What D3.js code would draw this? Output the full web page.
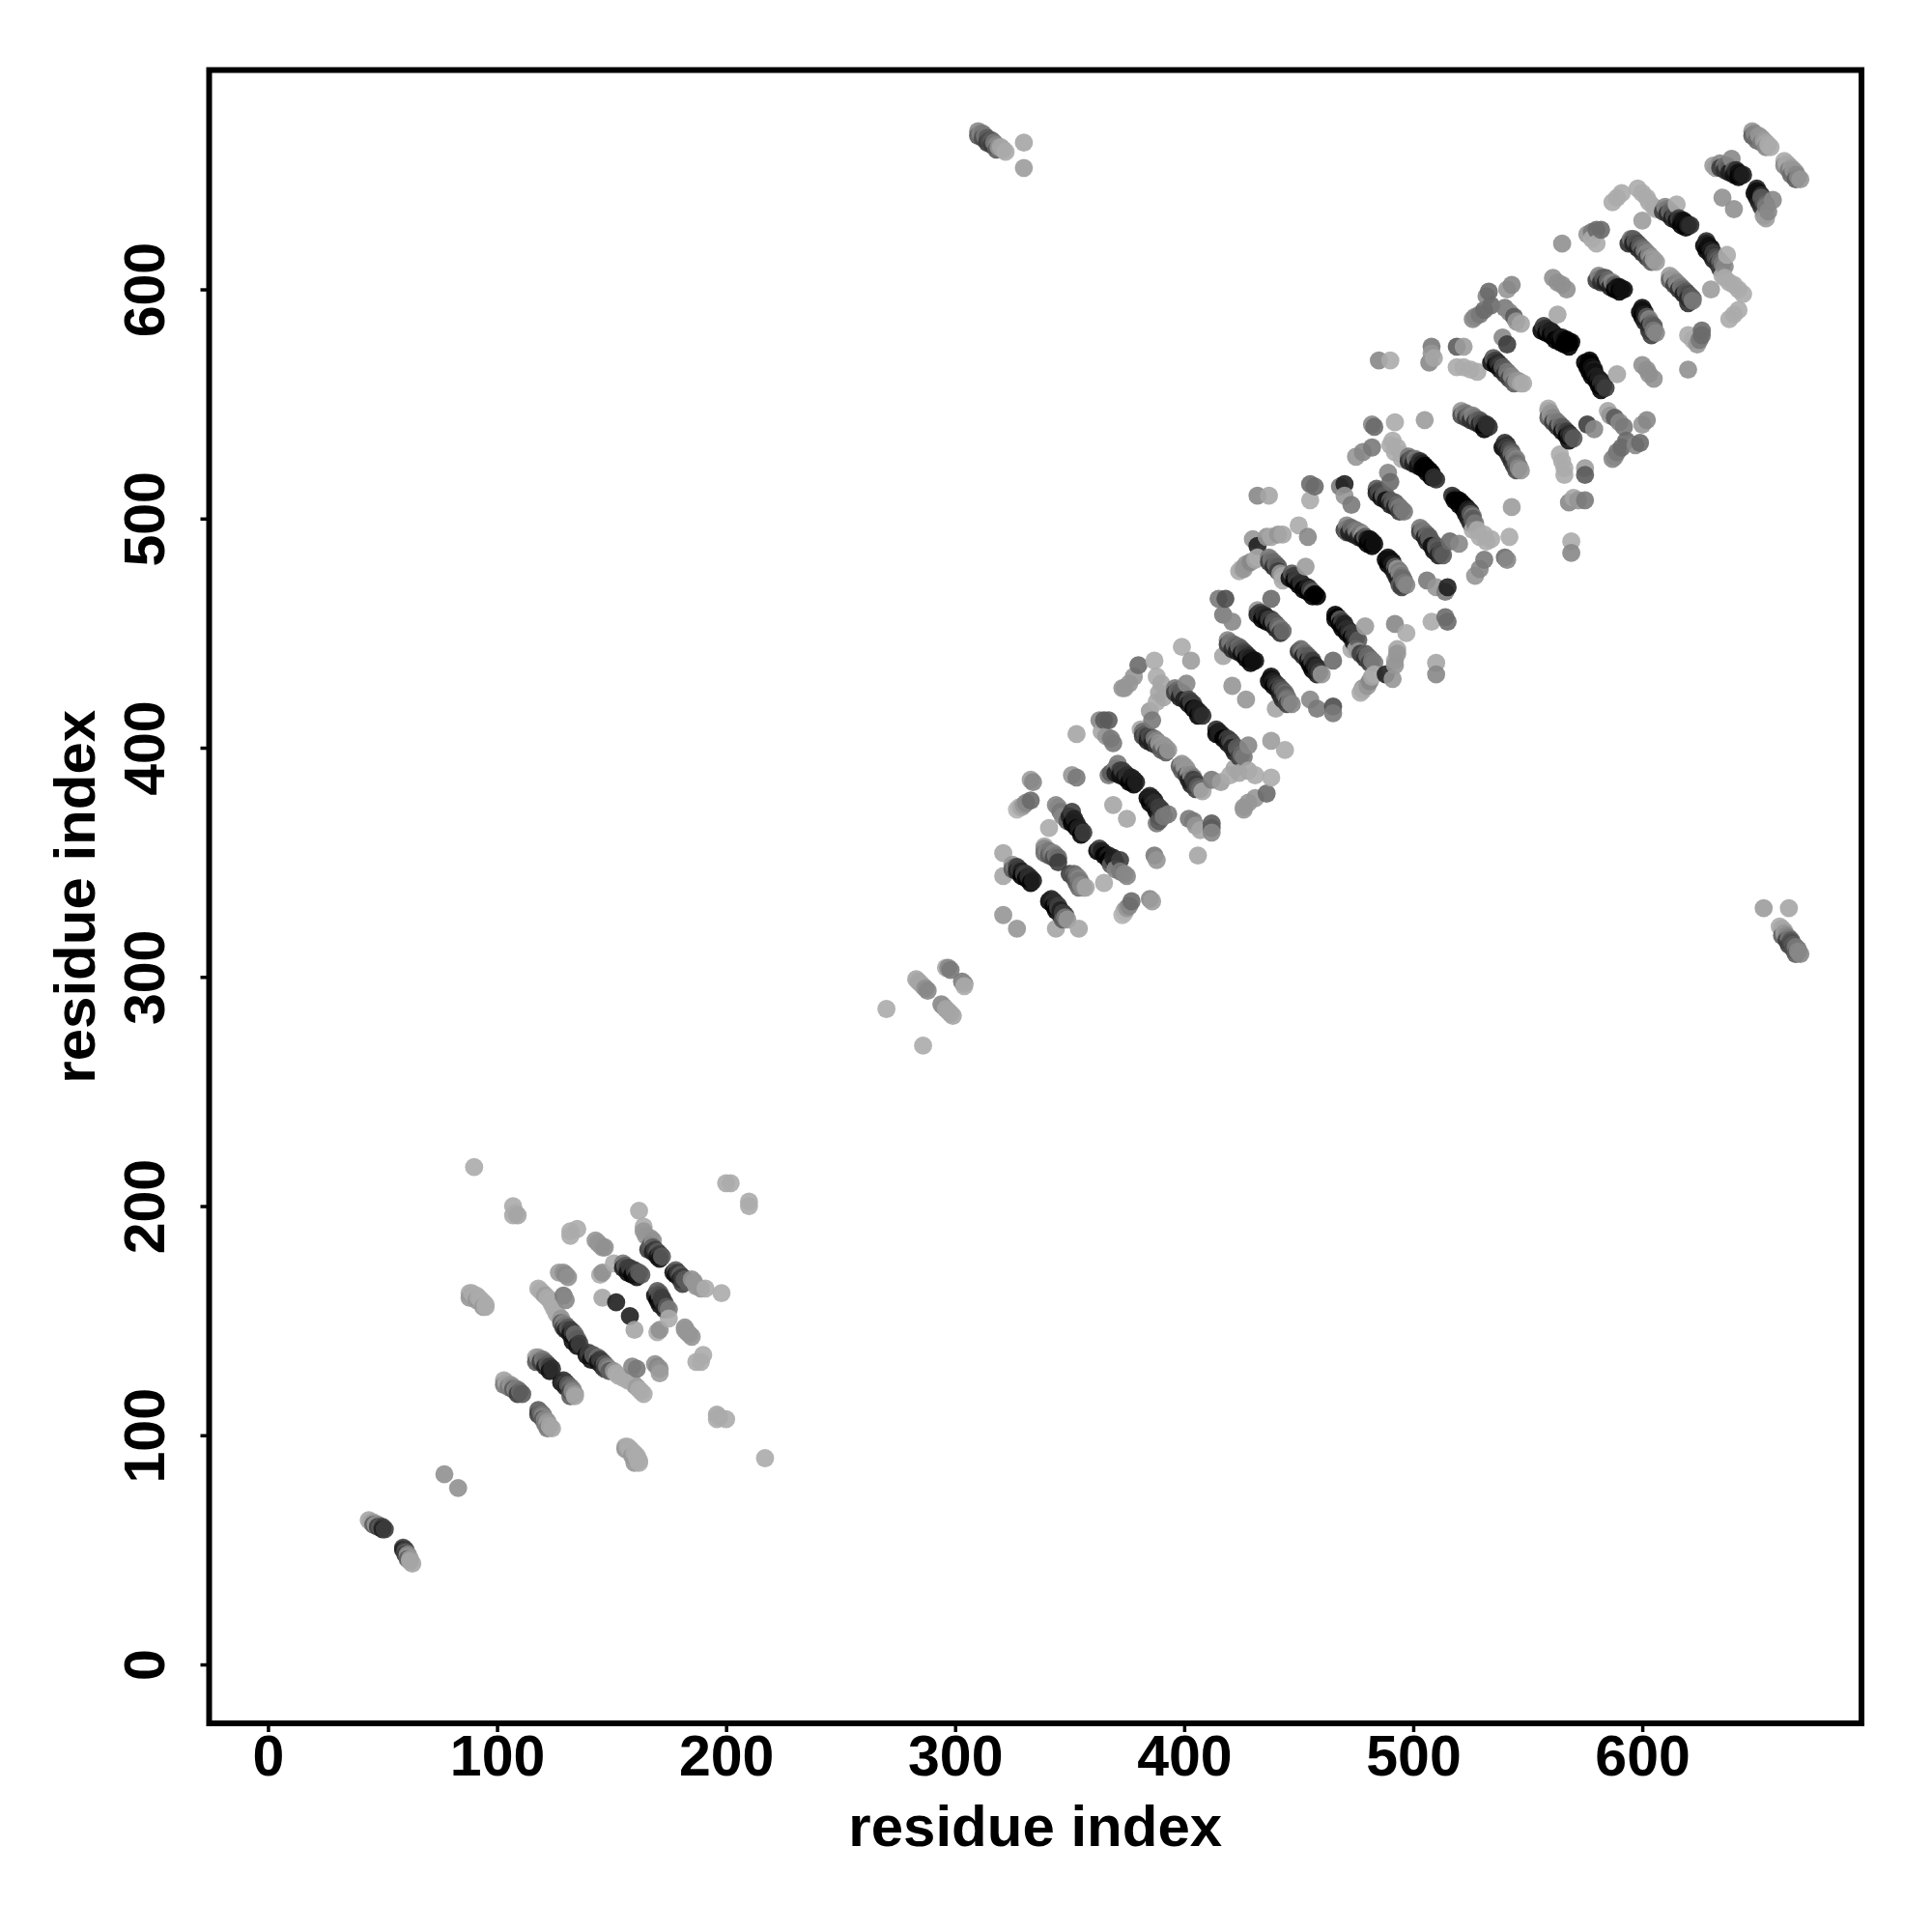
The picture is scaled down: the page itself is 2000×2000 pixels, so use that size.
<!DOCTYPE html>
<html><head><meta charset="utf-8">
<script src="https://cdn.jsdelivr.net/npm/d3@7/dist/d3.min.js"></script>
<style>html,body{margin:0;background:#fff}svg{display:block}text{font-family:"Liberation Sans",Arial,sans-serif;font-weight:bold;fill:#000}</style>
</head><body><svg id="c" width="2000" height="2000"></svg>
<script>
// Contacts are [residue i, residue j, weight]; the map is symmetric, so each is drawn at (i,j) and (j,i).
const xTicks=[0,100,200,300,400,500,600];
const yTicks=[0,100,200,300,400,500,600];
const axisLabel="residue index";
const contactsNTerm=[[44,63,.35],[45,62,.35],[46,62,.38],[47,61,.4],[48,61,.45],[49,60,.6],[50,60,.7],[51,59,.7],[77,83,.42]];
const contactsDomainA=[
[103,124,.35],[104,123,.35],[105,122,.38],[106,122,.4],[107,121,.45],[108,120,.45],[109,120,.5],[110,119,.55],[111,118,.6],
[117,134,.35],[118,134,.4],[119,133,.45],[120,133,.5],[121,132,.55],[122,131,.6],[123,130,.7],[124,129,.75],
[118,164,.33],[119,163,.33],[120,162,.33],[121,161,.38],[122,160,.33],[123,159,.33],[124,157,.33],[125,155,.33],[126,153,.33],[127,152,.33],[128,151,.4],[129,149,.45],[130,148,.5],[131,147,.6],[132,146,.7],[133,145,.7],[134,144,.55],[135,142,.6],[136,140,.7],
[127,171,.38],[129,171,.42],[130,170,.45],[131,169,.42],[129,161,.5],[130,159,.45],
[88,162,.33],[89,162,.33],[90,161,.33],[91,161,.33],[92,160,.33],[93,159,.33],[94,158,.33],[95,157,.33],[95,156,.33],
[90,217,.33],[107,200,.33],[109,196,.35],[200,210,.33],[202,210,.33],
[132,189,.33],[135,190,.33],[132,187,.33],[143,185,.4],[144,184,.4],[145,183,.4],[146,182,.4],[147,182,.42],
[155,175,.5],[156,174,.6],[157,173,.7],[158,173,.7],[159,172,.7],[160,172,.7],[161,171,.65],[162,171,.6],[163,170,.6],
[162,198,.33],[164,191,.33],[164,189,.4],[165,187,.4],[167,186,.4],[168,185,.42],[167,183,.6],[168,182,.6],[169,181,.7],[170,180,.6],[171,179,.7],[172,178,.6],
[146,160,.35],[152,158,.8],[151,175,.33],[146,171,.42],[145,170,.33],
[196,107,.33],[197,108,.33]];
const contactsDomainB=[[270,286,.33],[283,299,.35],[284,298,.35],[285,297,.35],[286,296,.35],[287,295,.42],[288,294,.45],[296,304,.33],[297,304,.45],[298,303,.5]];
const contactsDomainC1=[
[321,354,.35],[321,344,.35],[321,327,.4],
[325,349,.4],[326,348,.5],[327,348,.7],[328,347,.7],[329,346,.8],[330,345,.7],[331,345,.7],[332,344,.75],[333,343,.75],[334,342,.8],
[339,357,.35],[339,356,.45],[340,355,.45],[341,355,.5],[342,354,.5],[343,354,.45],[344,353,.5],[345,352,.55],
[341,365,.33],[344,375,.45],[345,374,.45],[346,372,.5],[347,370,.45],[349,368,.6],[351,372,.7],[352,369,.8],[353,367,.8],[354,365,.8],[355,364,.8],[356,363,.7],
[327,373,.3],[328,374,.3],[329,374,.35],[330,375,.4],[331,376,.45],[333,377,.55],[334,385,.45],[333,386,.38],
[351,388,.4],[353,387,.5],[353,406,.35],[363,412,.45],[365,412,.6],[367,412,.6],[364,407,.35],[366,405,.4],[368,404,.5],[369,402,.5],[369,375,.35],
[367,388,.5],[370,391,.5],[371,393,.5],[372,390,.7],[373,390,.7],[374,389,.7],[375,388,.75],[376,387,.75],[377,387,.8],[378,386,.8],[379,385,.8],
[381,408,.35],[382,407,.55],[383,406,.6],[384,405,.7],[385,405,.65],[386,404,.7],[387,404,.5],[388,403,.45],[389,402,.4],[390,401,.4],[391,401,.4],[392,400,.4],[393,399,.4],
[396,426,.5],[397,425,.55],[398,424,.6],[399,424,.6],[400,423,.6],[401,428,.45],[402,421,.65],[403,420,.7],[404,419,.7],[405,417,.8],[406,416,.8],[407,415,.8],[408,414,.75],
[421,427,.4],[387,438,.33],[403,438,.38],[399,444,.33],[386,412,.5],[385,416,.38],[388,420,.33],[389,424,.35],[390,428,.35],[388,431,.33],[391,422,.35],
[373,426,.4],[374,426,.4],[376,428,.4],[378,431,.4],[380,436,.55]];
const contactsDomainC2=[
[432,510,.45],[437,510,.35],[455,515,.55],[457,514,.55],[455,508,.33],[470,515,.8],[468,514,.5],[470,510,.4],[473,506,.5],[450,497,.33],[454,492,.45],
[436,492,.4],[438,492,.35],[441,493,.4],[443,493,.35],[430,491,.4],[432,488,.8],
[424,477,.33],[425,478,.33],[426,478,.4],[427,480,.4],[429,481,.45],[431,482,.35],[432,483,.33],
[437,483,.5],[438,482,.5],[439,481,.55],[440,480,.55],[441,479,.6],[442,476,.4],[443,475,.35],[443,473,.33],
[447,476,.6],[448,475,.7],[449,474,.7],[450,473,.7],[451,472,.75],[452,471,.75],[453,479,.38],[454,470,.8],[455,469,.7],[456,468,.6],[457,467,.9],[458,466,.95],
[438,465,.55],[432,460,.4],[433,459,.7],[434,458,.75],[435,458,.75],[436,457,.8],[437,456,.7],[438,456,.7],[439,455,.6],[440,454,.6],[441,453,.55],[442,452,.5],[443,451,.55],
[415,465,.5],[418,465,.65],[417,458,.5],[421,455,.45],
[417,440,.35],[419,447,.45],[420,446,.5],[421,445,.5],[422,445,.55],[423,444,.6],[424,444,.55],[425,443,.6],[426,442,.65],[427,441,.7],[428,440,.75],[429,439,.8],[430,438,.85],[431,438,.85],
[471,497,.45],[472,496,.5],[473,496,.55],[474,495,.55],[475,495,.5],[476,494,.45],[477,494,.5],[478,493,.4],[479,492,.6],[480,491,.8],[481,491,.85],[482,490,.85],[483,489,.85],
[471,494,.6],[484,513,.6],[485,512,.65],[486,511,.65],[487,510,.6],[488,510,.6],[489,520,.45],[490,516,.55],[490,508,.6],[491,507,.6],[492,507,.6],[493,506,.55],[494,505,.5],[495,504,.5],[496,503,.5],
[475,527,.4],[478,529,.45],[482,531,.5],[490,532,.33],[492,529,.33],[495,526,.33],[483,540,.55],[482,541,.45],[492,542,.33],[505,543,.38],
[498,527,.5],[499,526,.6],[500,526,.6],[501,526,.5],[502,525,.6],[503,525,.75],[504,524,.8],[505,523,.9],[506,522,.95],[507,521,.9],[508,520,.9],[509,518,.75],[510,517,.75],
[491,534,.33],[493,531,.33],[495,528,.33],[490,569,.33],[485,569,.45],[507,568,.45],[509,570,.35],[508,575,.5],[508,572,.4]];
const contactsDomainC3=[
[521,547,.4],[522,546,.45],[523,546,.5],[524,545,.55],[525,545,.5],[526,545,.45],[527,544,.5],[528,543,.55],[529,543,.6],[530,542,.65],[531,541,.7],[532,541,.75],[533,540,.75],
[519,575,.6],[522,575,.38],[519,566,.33],[522,566,.33],[525,565,.33],[528,564,.33],
[565,620,.42],[576,624,.4],[578,625,.5],[580,626,.55],[582,626,.55],[580,620,.33],[578,622,.33],[587,638,.33],[589,640,.33],[591,642,.33],
[561,605,.42],[563,603,.42],[565,602,.42],[567,600,.42],[543,602,.45],[541,600,.4],[533,599,.55],[532,597,.45],
[526,587,.45],[527,588,.45],[529,589,.5],[531,591,.55],[534,593,.55],[540,592,.5],[542,590,.45],[544,588,.6],[545,586,.4],[547,585,.35],[541,576,.7],[539,579,.45],
[535,570,.6],[536,569,.7],[537,568,.75],[538,567,.7],[539,566,.6],[540,565,.6],[541,564,.5],[542,563,.5],[543,562,.45],[544,561,.45],[545,560,.4],[546,560,.4],[547,559,.35],[548,559,.33],
[557,584,.7],[558,583,.75],[559,582,.75],[560,582,.8],[561,581,.8],[562,580,.8],[563,589,.35],[564,579,.85],[565,579,.8],[566,578,.85],[567,578,.9],[568,577,.95],[569,577,.95],
[581,606,.45],[582,605,.5],[583,605,.6],[584,605,.6],[585,604,.55],[586,603,.5],[587,603,.45],[588,602,.6],[589,601,.8],[590,601,.85],[591,600,.85],[592,600,.85],
[595,622,.5],[596,622,.6],[597,621,.6],[598,620,.65],[599,619,.6],[600,618,.55],[601,617,.5],[602,616,.45],[603,615,.45],[604,614,.4],[605,613,.38],[606,612,.38],[600,630,.38],
[598,644,.33],[600,642,.33],[602,640,.33],[603,638,.33],[605,636,.33],[606,635,.33],
[610,636,.45],[611,635,.5],[612,634,.55],[613,633,.6],[614,632,.65],[615,637,.33],[616,631,.7],[617,630,.8],[618,630,.85],[619,629,.85],[620,628,.8],[621,628,.75],
[635,640,.42],[631,654,.38],[632,653,.38],[634,655,.45],[636,654,.5],[637,654,.55],[638,653,.6],[639,657,.45],[640,652,.6],[641,652,.75],[642,651,.85],[643,650,.85],[644,650,.8],
[648,669,.4],[649,668,.45],[650,667,.45],[651,667,.4],[652,666,.4],[653,665,.38],[654,664,.35],[655,663,.33],[656,662,.33]];
const contactsTail=[[310,669,.45],[311,668,.45],[312,668,.5],[313,667,.5],[314,666,.6],[315,665,.65],[316,665,.6],[317,664,.5],[318,663,.45],[319,662,.4],[320,662,.35],[321,661,.35],[322,660,.33],[330,664,.35],[330,653,.38]];
// Darker contacts that show as rims on the lower-left side of each streak.
const contactsRimsLow=[
[46,61,.6],[48,60,.7],[50,59,.8],
[103,122,.5],[105,121,.5],[107,120,.6],[109,118,.7],[117,132,.6],[119,132,.7],[121,130,.8],[123,128,.85],
[128,149,.6],[129,147,.7],[130,146,.8],[132,144,.85],[133,141,.85],[135,139,.85],
[155,173,.8],[157,171,.85],[159,170,.9],[161,169,.85],[166,181,.7],[168,180,.8],[170,178,.85],[171,177,.85],
[88,160,.4],[91,159,.4],[94,156,.4],
[325,347,.6],[327,346,.8],[329,344,.9],[331,343,.9],[333,341,.9],[339,354,.55],[341,353,.6],[343,352,.65],[345,350,.7],
[350,370,.8],[351,367,.9],[353,365,.9],[355,362,.9],[368,389,.6],[370,389,.8],[372,388,.85],[374,387,.85],[376,385,.9],[378,384,.9],
[382,405,.7],[384,403,.8],[386,402,.8],[388,401,.7],[390,399,.6],[392,398,.6],
[396,424,.7],[398,422,.8],[400,421,.8],[402,419,.85],[404,417,.9],[406,414,.9]];
const contactsRimsHigh=[
[432,458,.8],[434,456,.9],[436,455,.9],[438,454,.85],[440,452,.8],[442,450,.75],[437,481,.7],[439,479,.75],[441,477,.7],
[446,474,.85],[448,473,.9],[450,471,.9],[452,469,.95],[454,468,.9],[456,466,.95],
[419,445,.7],[421,443,.75],[423,442,.8],[425,441,.85],[427,439,.9],[429,437,.9],
[470,495,.7],[472,494,.8],[474,493,.8],[476,492,.8],[478,491,.85],[480,489,.95],[482,488,.95],
[484,511,.8],[486,509,.85],[488,508,.85],[490,506,.8],[492,505,.8],[494,503,.7],
[498,525,.75],[500,524,.8],[502,523,.85],[504,522,.95],[506,520,.95],[508,518,.95],
[521,545,.65],[523,544,.7],[525,543,.75],[527,542,.75],[529,541,.8],[531,539,.9],
[534,568,.85],[536,567,.9],[538,565,.85],[540,563,.75],[542,561,.7],[544,559,.6],
[556,582,.9],[558,581,.9],[560,580,.95],[562,578,.95],[564,577,.95],[566,576,.97],[568,575,.97],
[580,604,.7],[582,603,.75],[584,603,.8],[586,601,.8],[588,600,.9],[590,599,.95],
[594,620,.75],[596,620,.8],[598,618,.8],[600,616,.75],[602,614,.7],[604,612,.6],
[609,634,.7],[611,633,.75],[613,631,.8],[615,630,.85],[617,628,.9],[619,627,.9],
[634,653,.7],[636,652,.75],[638,651,.8],[640,650,.85],[642,649,.9],
[648,667,.6],[650,665,.55],[652,664,.5],[654,662,.45],
[310,667,.6],[312,666,.65],[314,664,.7],[316,663,.7],[318,661,.6]];

const contacts=[...contactsNTerm,...contactsDomainA,...contactsDomainB,...contactsDomainC1,...contactsDomainC2,...contactsDomainC3,...contactsTail,...contactsRimsLow,...contactsRimsHigh];
const points=contacts.flatMap(([i,j,w])=>[{x:i,y:j,w},{x:j,y:i,w}]).sort((a,b)=>a.x-b.x||b.y-a.y);

const L=216.5,R=1927,T=72.5,B=1784;
const x=d3.scaleLinear().domain([-25.7,695.7]).range([L,R]);
const y=d3.scaleLinear().domain([-25.7,695.7]).range([B,T]);
const shade=d3.scaleLinear().domain([0,1]).range([268,0]);
const svg=d3.select("#c");
svg.append("g").selectAll("circle").data(points).join("circle")
  .attr("cx",d=>x(d.x)).attr("cy",d=>y(d.y)).attr("r",9.4)
  .attr("fill",d=>{const g=Math.max(0,Math.round((shade(d.w)-25.5)/0.9));return `rgb(${g},${g},${g})`;})
  .attr("fill-opacity",0.9);
svg.append("rect").attr("x",L).attr("y",T).attr("width",R-L).attr("height",B-T)
  .attr("fill","none").attr("stroke","#000").attr("stroke-width",6);
const gx=svg.append("g").attr("transform",`translate(0,${B})`)
  .call(d3.axisBottom(x).tickValues(xTicks).tickSize(9).tickPadding(0));
gx.select(".domain").remove();
gx.selectAll("line").attr("stroke-width",3.5);
gx.selectAll("text").attr("font-size",59).attr("dy",null).attr("y",54).style("text-anchor","middle");
const gy=svg.append("g").attr("transform",`translate(${L},0)`)
  .call(d3.axisLeft(y).tickValues(yTicks).tickSize(9).tickPadding(0));
gy.select(".domain").remove();
gy.selectAll("line").attr("stroke-width",3.5);
gy.selectAll("text").attr("font-size",59).attr("dy",null).attr("x",null)
  .attr("transform","translate(-47,0) rotate(-90)").style("text-anchor","middle");
svg.append("text").attr("x",(L+R)/2).attr("y",1911).attr("text-anchor","middle").attr("font-size",60).text(axisLabel);
svg.append("text").attr("transform",`translate(98,${(T+B)/2}) rotate(-90)`).attr("text-anchor","middle").attr("font-size",60).text(axisLabel);
</script></body></html>
